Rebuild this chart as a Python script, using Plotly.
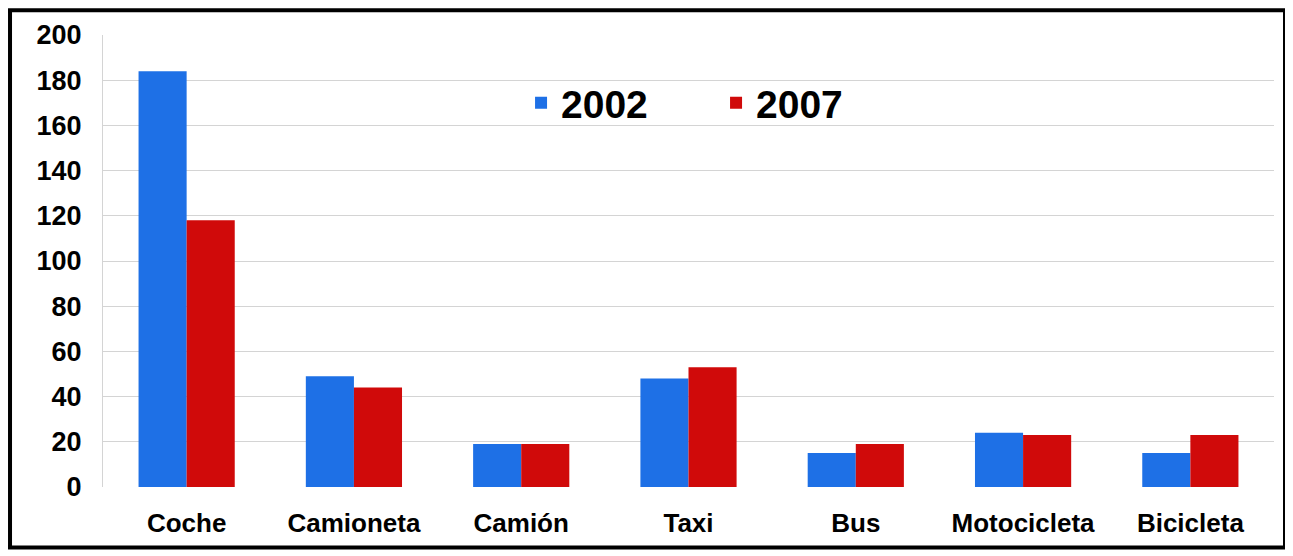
import plotly.graph_objects as go

categories = ["Coche", "Camioneta", "Camión", "Taxi", "Bus", "Motocicleta", "Bicicleta"]
values_2002 = [184, 49, 19, 48, 15, 24, 15]
values_2007 = [118, 44, 19, 53, 19, 23, 23]
y_ticks = [0, 20, 40, 60, 80, 100, 120, 140, 160, 180, 200]

FONT = "Liberation Sans, Arial, sans-serif"

fig = go.Figure()
fig.add_trace(go.Bar(name="2002", x=categories, y=values_2002, marker_color="#1E70E6",
                     marker_line_width=0))
fig.add_trace(go.Bar(name="2007", x=categories, y=values_2007, marker_color="#D00A0A",
                     marker_line_width=0))

fig.update_layout(
    width=1285, height=548,
    margin=dict(l=95, r=19, t=25, b=69),
    paper_bgcolor="white", plot_bgcolor="white",
    barmode="group", bargap=0.425, bargroupgap=0,
    font=dict(family=FONT, color="black"),
    showlegend=True,
    legend=dict(orientation="h", x=0.357, y=0.85, xanchor="left", yanchor="middle",
                font=dict(family=FONT, size=39, color="black", weight="bold"),
                bgcolor="rgba(0,0,0,0)", entrywidth=150, entrywidthmode="pixels"),
    xaxis=dict(showgrid=False, showline=False, ticks="", zeroline=False,
               tickfont=dict(family=FONT, size=26, color="black", weight="bold"),
               ticklabelstandoff=18),
    yaxis=dict(range=[0, 200], tickvals=y_ticks, showgrid=True, gridcolor="#d4d4d4",
               gridwidth=1, zeroline=False, showline=True, linecolor="#d4d4d4",
               linewidth=1, ticks="",
               tickfont=dict(family=FONT, size=27, color="black", weight="bold"),
               ticklabelstandoff=15),
    shapes=[dict(type="rect", xref="paper", yref="paper",
                 x0=-0.0794, x1=1.0094, y0=-0.134, y1=1.055,
                 line=dict(color="black", width=4), fillcolor="rgba(0,0,0,0)")],
)

fig.write_html("out.html")
